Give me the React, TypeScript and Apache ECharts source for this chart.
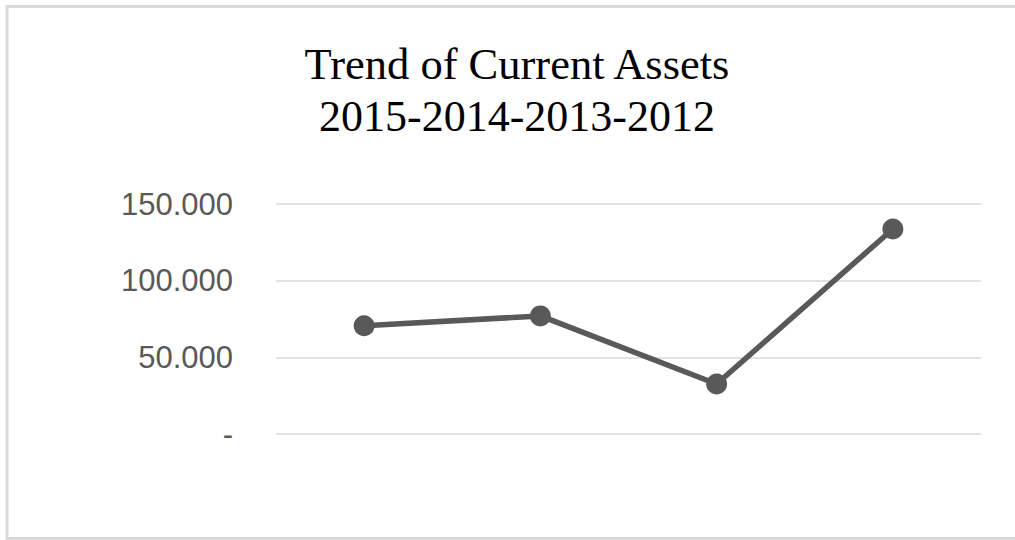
import React, { useEffect, useRef } from "react";
import * as echarts from "echarts";

const categories: string[] = ["2015", "2014", "2013", "2012"];
const currentAssets: number[] = [70600, 77000, 32600, 133700];
const titleLines: string[] = ["Trend of Current Assets", "2015-2014-2013-2012"];
const yMin = 0;
const yMax = 150000;
const yInterval = 50000;

function formatTick(v: number): string {
  if (v === 0) return "-";
  return String(Math.round(v)).replace(/\B(?=(\d{3})+(?!\d))/g, ".");
}

export default function App() {
  const ref = useRef<HTMLDivElement>(null);
  useEffect(() => {
    if (!ref.current) return;
    const chart = echarts.init(ref.current, undefined, { renderer: "svg" });
    chart.setOption({
      animation: false,
      backgroundColor: "#ffffff",
      graphic: [
        {
          type: "rect",
          shape: { x: 7, y: 6.5, width: 1020, height: 532 },
          style: { fill: "none", stroke: "#d9d9d9", lineWidth: 3 },
          silent: true,
          z: 0,
        },
        {
          type: "text",
          x: 517,
          y: 64,
          style: {
            text: titleLines[0],
            fontFamily: "Liberation Serif",
            fontSize: 44.5,
            fill: "#000000",
            align: "center",
            verticalAlign: "middle",
          },
        },
        {
          type: "text",
          x: 517,
          y: 116,
          style: {
            text: titleLines[1],
            fontFamily: "Liberation Serif",
            fontSize: 44,
            fill: "#000000",
            align: "center",
            verticalAlign: "middle",
          },
        },
      ],
      grid: { left: 276, right: 34, top: 204, bottom: 106, containLabel: false },
      xAxis: {
        type: "category",
        data: categories,
        boundaryGap: true,
        axisLine: { show: false },
        axisTick: { show: false },
        axisLabel: { show: false },
        splitLine: { show: false },
      },
      yAxis: {
        type: "value",
        min: yMin,
        max: yMax,
        interval: yInterval,
        axisLine: { show: false },
        axisTick: { show: false },
        axisLabel: {
          formatter: (v: number) => formatTick(v),
          color: "#595959",
          fontFamily: "Liberation Sans",
          fontSize: 31,
          margin: 43,
        },
        splitLine: { lineStyle: { color: "#d9d9d9", width: 1.5 } },
      },
      series: [
        {
          type: "line",
          data: currentAssets,
          symbol: "circle",
          symbolSize: 21,
          lineStyle: { color: "#595959", width: 5.5 },
          itemStyle: { color: "#595959" },
          label: { show: false },
        },
      ],
    });
    return () => chart.dispose();
  }, []);
  return (
    <div
      ref={ref}
      style={{ position: "fixed", left: 0, top: 0, width: 1015, height: 540 }}
    />
  );
}
